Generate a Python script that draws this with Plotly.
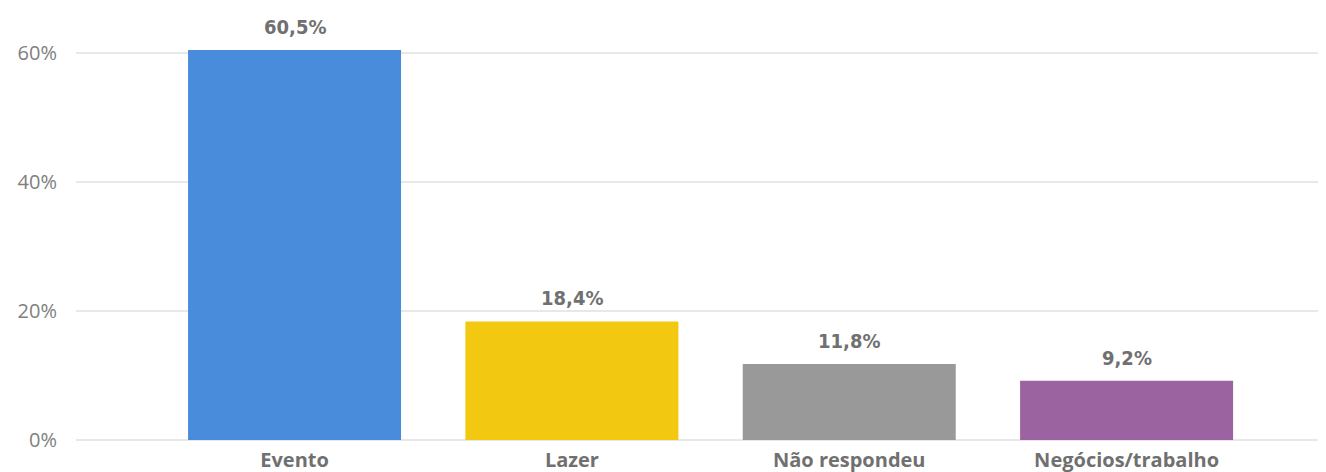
import plotly.graph_objects as go

categories = ["Evento", "Lazer", "Não respondeu", "Negócios/trabalho"]
values = [60.5, 18.4, 11.8, 9.2]
colors = ["#4A8CDC", "#F2C811", "#999999", "#9B64A0"]
tick_vals = [0, 20, 40, 60]
tick_text = ["0%", "20%", "40%", "60%"]

labels = [f"{v:.1f}".replace(".", ",") + "%" for v in values]
xs = list(range(len(categories)))

fig = go.Figure(go.Bar(
    x=xs,
    y=values,
    marker=dict(color=colors, line=dict(width=0)),
    width=0.768,
    hoverinfo="skip",
))

for x, v, t in zip(xs, values, labels):
    fig.add_annotation(
        x=x, y=v, text=f"<b>{t}</b>", showarrow=False,
        yanchor="bottom", yshift=9,
        font=dict(family="DejaVu Sans Condensed, Liberation Sans Narrow, sans-serif", size=20, color="#707070"),
    )

# page body has an 8px default margin; size figure to fit the window
fig.update_layout(
    width=1318, height=464,
    margin=dict(l=68, r=0, t=13, b=32),
    paper_bgcolor="white", plot_bgcolor="white",
    showlegend=False,
    xaxis=dict(
        range=[-0.788, 3.719],
        tickvals=xs,
        ticktext=[f"<b>{c}</b>" for c in categories],
        tickfont=dict(family="Open Sans, Noto Sans, sans-serif", size=20, color="#707070"),
        showgrid=False, zeroline=False, showline=False, ticks="",
        ticklabelstandoff=6,
        automargin=False,
    ),
    yaxis=dict(
        range=[0, 65],
        tickvals=tick_vals,
        ticktext=tick_text,
        tickfont=dict(family="Open Sans, Noto Sans, sans-serif", size=20, color="#808080"),
        showgrid=True, gridcolor="#E8E8E8", gridwidth=2,
        zeroline=True, zerolinecolor="#E8E8E8", zerolinewidth=2,
        ticks="", ticklabelstandoff=18,
        automargin=False,
    ),
)

fig.write_html("out.html")
